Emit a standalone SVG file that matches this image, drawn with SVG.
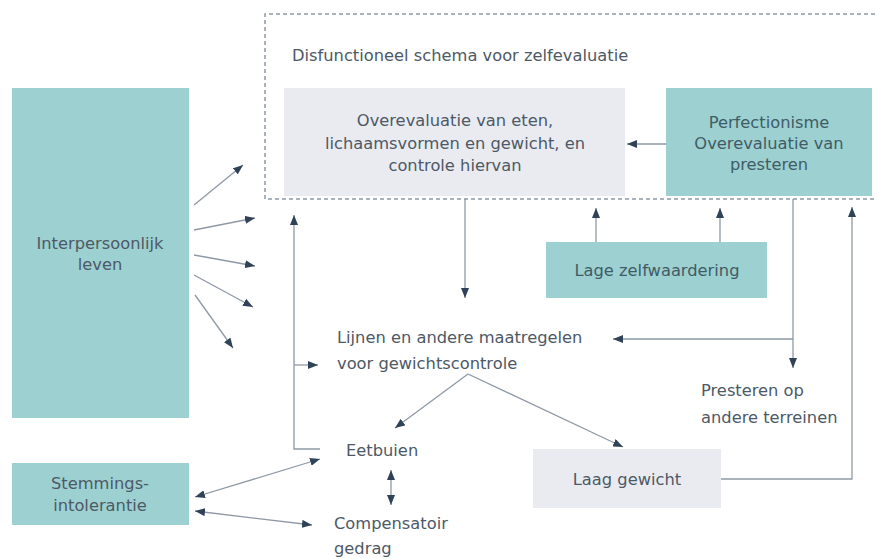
<svg xmlns="http://www.w3.org/2000/svg" width="877" height="559" viewBox="0 0 877 559">
<style>
  text { font-family: "DejaVu Sans", "Open Sans", sans-serif; font-size: 16.3px; fill: #4d5966; }
  .c { text-anchor: middle; }
  .dark { fill: #3f5c66; }
  .teal { fill: #9dd0d1; }
  .grey { fill: #e9ebf1; }
  .ln { fill: none; stroke: #8e99a5; stroke-width: 1.3; }
  .a { marker-end: url(#ah); }
  .aa { marker-end: url(#ah); marker-start: url(#ah); }
</style>
<defs>
  <marker id="ah" viewBox="0 0 10 8" refX="10" refY="4" markerWidth="10" markerHeight="8" markerUnits="userSpaceOnUse" orient="auto-start-reverse">
    <path d="M0,0 L10,4 L0,8 z" fill="#2f4258"/>
  </marker>
</defs>
<rect width="877" height="559" fill="#ffffff"/>

<g id="schema">
  <path d="M875,14 H265 V199 H875" fill="none" stroke="#8e99a5" stroke-width="1.5" stroke-dasharray="4,3"/>
  <text x="292" y="61">Disfunctioneel schema voor zelfevaluatie</text>
</g>

<g id="overevaluatie">
  <rect class="grey" x="284" y="88" width="341" height="108"/>
  <text class="c" x="455" y="126">Overevaluatie van eten,</text>
  <text class="c" x="455" y="149">lichaamsvormen en gewicht, en</text>
  <text class="c" x="455" y="171">controle hiervan</text>
</g>

<g id="perfectionisme">
  <rect class="teal" x="666" y="88" width="206" height="108"/>
  <text class="c dark" x="769" y="128">Perfectionisme</text>
  <text class="c dark" x="769" y="149">Overevaluatie van</text>
  <text class="c dark" x="769" y="170">presteren</text>
</g>

<g id="interpersoonlijk">
  <rect class="teal" x="12" y="88" width="177" height="330"/>
  <text class="c" x="100" y="249">Interpersoonlijk</text>
  <text class="c" x="100" y="270">leven</text>
</g>

<g id="lage-zelfwaardering">
  <rect class="teal" x="546" y="242" width="221" height="56"/>
  <text class="c dark" x="657" y="276">Lage zelfwaardering</text>
</g>

<g id="lijnen">
  <text x="337" y="343">Lijnen en andere maatregelen</text>
  <text x="337" y="369">voor gewichtscontrole</text>
</g>

<g id="presteren">
  <text x="701" y="396">Presteren op</text>
  <text x="701" y="423">andere terreinen</text>
</g>

<g id="eetbuien">
  <text x="346" y="456">Eetbuien</text>
</g>

<g id="compensatoir">
  <text x="334" y="529">Compensatoir</text>
  <text x="334" y="554">gedrag</text>
</g>

<g id="laag-gewicht">
  <rect class="grey" x="533" y="449" width="188" height="59"/>
  <text class="c" x="627" y="485">Laag gewicht</text>
</g>

<g id="stemmingsintolerantie">
  <rect class="teal" x="12" y="463" width="177" height="62"/>
  <text class="c" x="100" y="489">Stemmings-</text>
  <text class="c" x="100" y="511">intolerantie</text>
</g>

<g id="connectors">
  <line class="ln a" x1="194" y1="205" x2="243" y2="165"/>
  <line class="ln a" x1="194" y1="230" x2="255" y2="218"/>
  <line class="ln a" x1="194" y1="255" x2="255" y2="266"/>
  <line class="ln a" x1="194" y1="275" x2="253" y2="307"/>
  <line class="ln a" x1="195" y1="295" x2="233" y2="348"/>
  <line class="ln a" x1="666" y1="144" x2="627" y2="144"/>
  <line class="ln a" x1="596" y1="242" x2="596" y2="208"/>
  <line class="ln a" x1="720" y1="242" x2="720" y2="208"/>
  <line class="ln a" x1="465" y1="199" x2="465" y2="298"/>
  <line class="ln a" x1="793" y1="199" x2="793" y2="368"/>
  <line class="ln a" x1="793" y1="339" x2="613" y2="339"/>
  <polyline class="ln a" points="721,479 852,479 852,207"/>
  <line class="ln a" x1="468" y1="374" x2="395" y2="428"/>
  <line class="ln a" x1="468" y1="374" x2="623" y2="447"/>
  <polyline class="ln a" points="320,449 294,449 294,215"/>
  <line class="ln a" x1="294" y1="365" x2="318" y2="365"/>
  <line class="ln aa" x1="195" y1="497" x2="320" y2="459"/>
  <line class="ln aa" x1="195" y1="511" x2="312" y2="525"/>
  <line class="ln aa" x1="391" y1="470" x2="391" y2="505"/>
</g>
</svg>
